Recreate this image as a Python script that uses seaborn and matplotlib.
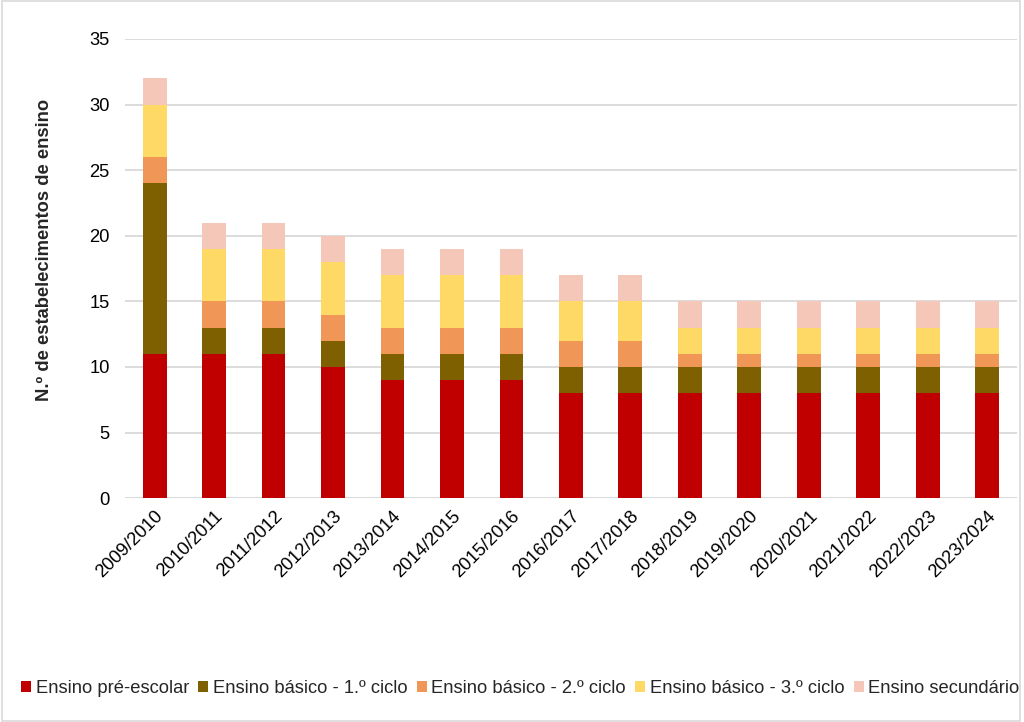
import numpy as np
import pandas as pd
import matplotlib
matplotlib.use("Agg")
import matplotlib.pyplot as plt
import seaborn as sns
from matplotlib.patches import Patch, Rectangle

years = ["2009/2010", "2010/2011", "2011/2012", "2012/2013", "2013/2014",
         "2014/2015", "2015/2016", "2016/2017", "2017/2018", "2018/2019",
         "2019/2020", "2020/2021", "2021/2022", "2022/2023", "2023/2024"]
pre_escolar = [11, 11, 11, 10, 9, 9, 9, 8, 8, 8, 8, 8, 8, 8, 8]
basico_1 = [13, 2, 2, 2, 2, 2, 2, 2, 2, 2, 2, 2, 2, 2, 2]
basico_2 = [2, 2, 2, 2, 2, 2, 2, 2, 2, 1, 1, 1, 1, 1, 1]
basico_3 = [4, 4, 4, 4, 4, 4, 4, 3, 3, 2, 2, 2, 2, 2, 2]
secundario = [2, 2, 2, 2, 2, 2, 2, 2, 2, 2, 2, 2, 2, 2, 2]

series_names = ["Ensino pré-escolar", "Ensino básico - 1.º ciclo",
                "Ensino básico - 2.º ciclo", "Ensino básico - 3.º ciclo",
                "Ensino secundário"]
series_vals = [pre_escolar, basico_1, basico_2, basico_3, secundario]
colors = ["#C00000", "#7F6000", "#F09657", "#FFD966", "#F4C7B8"]

sns.set_style("white")
plt.rcParams["font.family"] = ["Liberation Sans", "DejaVu Sans"]

FS = 13.2

fig = plt.figure(figsize=(10.24, 7.22), dpi=100)
ax = fig.add_axes([0.122, 0.310, 0.871, 0.636])

cum = np.cumsum(np.array(series_vals), axis=0)
# draw from top of stack down so lower segments overlay
for i in range(len(series_names) - 1, -1, -1):
    df = pd.DataFrame({"year": years, "value": cum[i]})
    sns.barplot(data=df, x="year", y="value", color=colors[i], width=0.4,
                saturation=1, ax=ax, zorder=2, edgecolor="none")

ax.set_ylim(0, 35)
ax.set_xlim(-0.5, len(years) - 0.5)
ax.set_yticks(range(0, 36, 5))
ax.yaxis.grid(True, color="#D9D9D9", linewidth=1.3, zorder=0)
ax.set_axisbelow(True)
for s in ["top", "right", "left", "bottom"]:
    ax.spines[s].set_visible(False)
ax.axhline(0, color="#D9D9D9", linewidth=1.3, zorder=1)
ax.tick_params(axis="both", length=0, labelsize=FS, colors="black")
ax.tick_params(axis="y", pad=11)
ax.tick_params(axis="x", pad=7)
ax.set_xlabel("")
ax.set_ylabel("N.º de estabelecimentos de ensino", fontsize=FS,
              fontweight="bold")
ax.yaxis.set_label_coords(-0.081, 0.54)
plt.setp(ax.get_xticklabels(), rotation=45, ha="right",
         rotation_mode="anchor")

handles = [Patch(facecolor=c, edgecolor="none") for c in colors]
fig.legend(handles, series_names, loc="center", bbox_to_anchor=(0.508, 0.047),
           ncol=5, frameon=False, fontsize=FS, handlelength=0.55,
           handleheight=0.55, handletextpad=0.25, columnspacing=0.5)

fig.patches.append(Rectangle((0.002, 0.002), 0.994, 0.996, transform=fig.transFigure,
                             fill=False, edgecolor="#D9D9D9", linewidth=1.2))

fig.savefig("out.png", dpi=100)
